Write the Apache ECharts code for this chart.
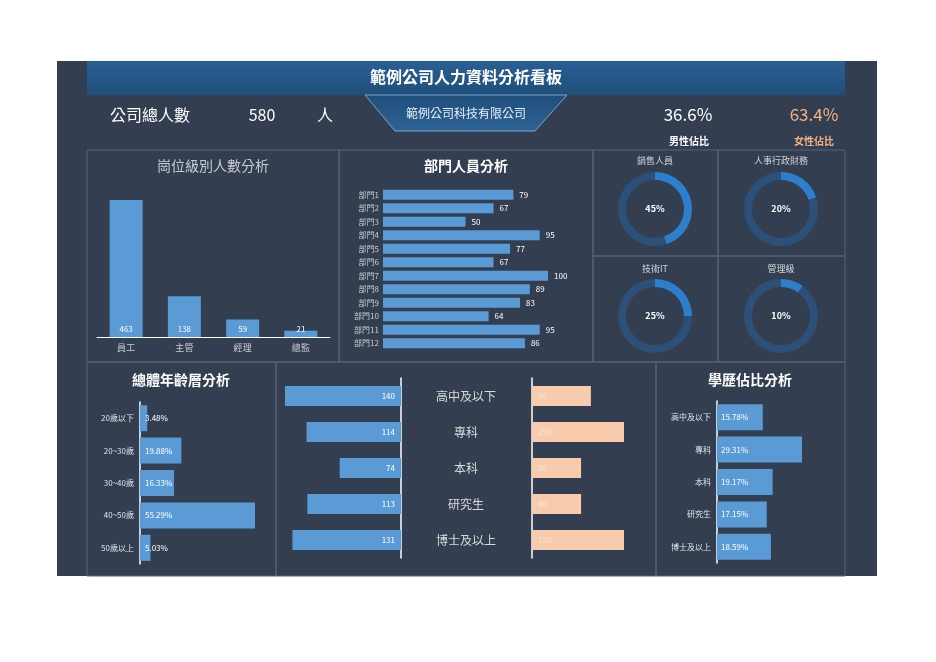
<!DOCTYPE html>
<html><head><meta charset="utf-8">
<script src="https://cdn.jsdelivr.net/npm/echarts@6/dist/echarts.min.js"></script>
<style>html,body{margin:0;background:#fff}#c{width:936px;height:662px}</style>
</head><body><div id="c"></div>
<script>
var levelNames = ['員工', '主管', '經理', '總監'];
var levelValues = [463, 138, 59, 21];
var deptNames = ['部門1','部門2','部門3','部門4','部門5','部門6','部門7','部門8','部門9','部門10','部門11','部門12'];
var deptValues = [79, 67, 50, 95, 77, 67, 100, 89, 83, 64, 95, 86];
var donutNames = ['銷售人員', '人事行政財務', '技術IT', '管理級'];
var donutValues = [45, 20, 25, 10];
var ageNames = ['20歲以下', '20~30歲', '30~40歲', '40~50歲', '50歲以上'];
var ageValues = [3.48, 19.88, 16.33, 55.29, 5.03];
var eduNames = ['高中及以下', '專科', '本科', '研究生', '博士及以上'];
var eduLeft = [140, 114, 74, 113, 131];
var eduRight = [96, 150, 80, 80, 150];
var eduPct = [15.78, 29.31, 19.17, 17.15, 18.59];

var FONT = '"Noto Sans CJK TC", sans-serif';
var BLUE = '#5b9bd5';
var chart = echarts.init(document.getElementById('c'));

function txt(x, y, s, size, color, weight, align) {
  return { type: 'text', x: x, y: y, style: { text: s, fontSize: size, fill: color, fontWeight: weight || 'normal',
    fontFamily: FONT, align: align || 'center', verticalAlign: 'middle' } };
}
function box(x1, y1, x2, y2) {
  return { type: 'rect', shape: { x: x1, y: y1, width: x2 - x1, height: y2 - y1 },
    style: { fill: 'none', stroke: '#56627a', lineWidth: 1 } };
}
var graphics = [
  { type: 'rect', shape: { x: 57, y: 61, width: 820, height: 515 }, style: { fill: '#333f50' }, z: -10 },
  { type: 'rect', shape: { x: 87, y: 61, width: 758, height: 34 },
    style: { fill: new echarts.graphic.LinearGradient(0, 0, 0, 1, [{ offset: 0, color: '#2a5f95' }, { offset: 1, color: '#1f4e79' }]) } },
  { type: 'polygon', shape: { points: [[365, 95], [567, 95], [535, 131], [395, 131]] },
    style: { fill: new echarts.graphic.LinearGradient(0, 0, 0, 1, [{ offset: 0, color: '#1f4e79' }, { offset: 1, color: '#2e6496' }]),
      stroke: '#7aa6cf', lineWidth: 1 } },
  txt(466, 77, '範例公司人力資料分析看板', 16, '#fff', 'bold'),
  txt(466, 113, '範例公司科技有限公司', 12, '#e6eef6'),
  txt(110, 115, '公司總人數', 16, '#fff', 'normal', 'left'),
  txt(262, 115, '580', 16, '#fff'),
  txt(325, 115, '人', 16, '#fff'),
  txt(688, 115, '36.6%', 17, '#fff'),
  txt(814, 115, '63.4%', 17, '#f4b183'),
  txt(689, 141, '男性佔比', 10, '#fff', 'bold'),
  txt(814, 141, '女性佔比', 10, '#f4b183', 'bold'),
  box(87, 150, 339, 362), box(339, 150, 593, 362),
  box(593, 150, 718, 256), box(718, 150, 845, 256), box(593, 256, 718, 362), box(718, 256, 845, 362),
  box(87, 362, 276, 576), box(276, 362, 656, 576), box(656, 362, 845, 576),
  txt(213, 166, '崗位級別人數分析', 14, '#c8ccd2'),
  txt(466, 166, '部門人員分析', 14, '#fff', 'bold'),
  txt(181, 380, '總體年齡層分析', 14, '#fff', 'bold'),
  txt(750, 380, '學歷佔比分析', 14, '#fff', 'bold')
];
var centers = [[655, 209], [781, 209], [655, 316], [781, 316]];
var titleY = [161, 161, 269, 269];
var series = [];
donutNames.forEach(function (n, i) {
  graphics.push(txt(centers[i][0], titleY[i], n, 9, '#d0d4da'));
  series.push({
    type: 'pie', radius: [29, 37], center: centers[i], startAngle: 90, clockwise: true, silent: true,
    label: { show: true, position: 'center', formatter: donutValues[i] + '%', color: '#fff', fontSize: 9, fontWeight: 'bold', fontFamily: FONT },
    labelLine: { show: false },
    data: [{ value: donutValues[i], itemStyle: { color: '#2e7fcb' } },
           { value: 100 - donutValues[i], itemStyle: { color: '#2c5078' }, label: { show: false } }]
  });
});

var grids = [
  { left: 97, width: 233, top: 200, bottom: 325 },
  { left: 383, width: 165, top: 188, height: 162 },
  { left: 140, width: 115, top: 402, height: 162 },
  { left: 285, width: 116, top: 378, height: 180 },
  { left: 532, width: 92, top: 378, height: 180 },
  { left: 717, width: 85, top: 401, height: 162 }
];
var noAxis = { show: false };
var xAxes = [
  { gridIndex: 0, type: 'category', data: levelNames, axisTick: noAxis, axisLine: { lineStyle: { color: '#fff' } },
    axisLabel: { color: '#c8ccd2', fontSize: 9, fontFamily: FONT, margin: 6 } },
  { gridIndex: 1, type: 'value', max: 100, show: false },
  { gridIndex: 2, type: 'value', max: 55.29, show: false },
  { gridIndex: 3, type: 'value', max: 140, inverse: true, show: false },
  { gridIndex: 4, type: 'value', max: 150, show: false },
  { gridIndex: 5, type: 'value', max: 29.31, show: false }
];
function catAxis(g, data, extra) {
  return Object.assign({ gridIndex: g, type: 'category', data: data, inverse: true, axisTick: noAxis,
    axisLine: { lineStyle: { color: '#fff', width: 1.5 } },
    axisLabel: { color: '#e0e3e8', fontSize: 8, fontFamily: FONT, margin: 6 } }, extra || {});
}
var yAxes = [
  { gridIndex: 0, type: 'value', max: 463, show: false },
  catAxis(1, deptNames, { axisLine: noAxis, axisLabel: { color: '#c8ccd2', fontSize: 8, fontFamily: FONT, margin: 4 } }),
  catAxis(2, ageNames),
  catAxis(3, eduNames, { position: 'right', axisLabel: { show: false } }),
  catAxis(4, eduNames, { axisLabel: { color: '#d9d9d9', fontSize: 12, fontFamily: FONT, align: 'center', margin: 66 } }),
  catAxis(5, eduNames)
];
var lbl = { color: '#fff', fontSize: 8, fontFamily: FONT };
series.push(
  { type: 'bar', xAxisIndex: 0, yAxisIndex: 0, data: levelValues, barWidth: 33, itemStyle: { color: BLUE },
    label: Object.assign({ show: true, position: 'insideBottom', distance: 4 }, lbl) },
  { type: 'bar', xAxisIndex: 1, yAxisIndex: 1, data: deptValues, barWidth: 10, itemStyle: { color: BLUE },
    label: Object.assign({ show: true, position: 'right', distance: 6 }, lbl) },
  { type: 'bar', xAxisIndex: 2, yAxisIndex: 2, data: ageValues, barWidth: 26, itemStyle: { color: BLUE },
    label: Object.assign({ show: true, position: 'insideLeft', distance: 5, formatter: '{c}%' }, lbl) },
  { type: 'bar', xAxisIndex: 3, yAxisIndex: 3, data: eduLeft, barWidth: 20, itemStyle: { color: BLUE },
    label: Object.assign({ show: true, position: 'insideRight', distance: 6 }, lbl) },
  { type: 'bar', xAxisIndex: 4, yAxisIndex: 4, data: eduRight, barWidth: 20, itemStyle: { color: '#f8cbad' },
    label: { show: true, position: 'insideLeft', distance: 6, color: '#fbe5d6', fontSize: 8, fontFamily: FONT } },
  { type: 'bar', xAxisIndex: 5, yAxisIndex: 5, data: eduPct, barWidth: 26, itemStyle: { color: BLUE },
    label: Object.assign({ show: true, position: 'insideLeft', distance: 4, formatter: '{c}%' }, lbl) }
);

chart.setOption({
  animation: false,
  graphic: graphics,
  grid: grids,
  xAxis: xAxes,
  yAxis: yAxes,
  series: series
});
</script>
</body></html>
